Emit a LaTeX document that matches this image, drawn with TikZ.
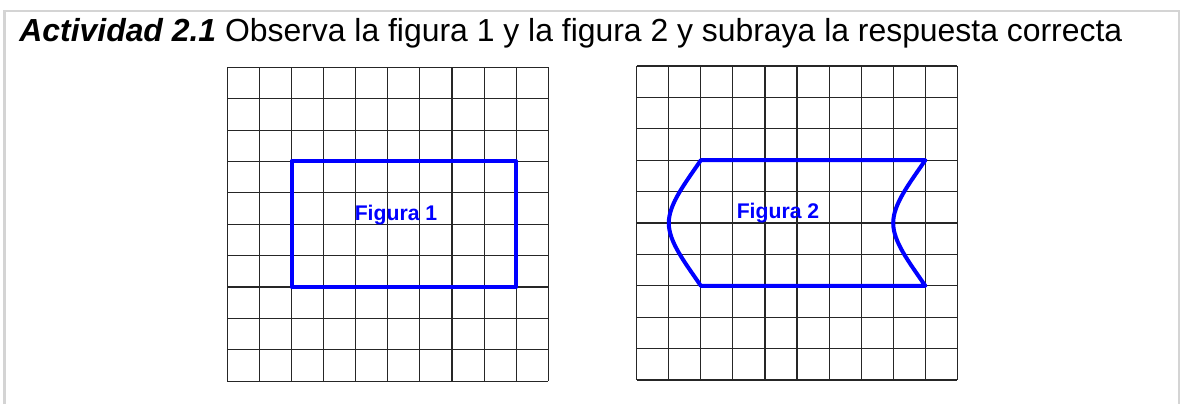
\documentclass[tikz,border=0pt]{standalone}
\usepackage{fontspec}
\setmainfont{Liberation Sans}
\definecolor{marco}{HTML}{D4D4D4}
\definecolor{azul}{HTML}{0000FF}
\usetikzlibrary{calc, positioning}

\begin{document}
\begin{tikzpicture}[x=0.5pt, y=-0.5pt,
  rejilla/.style={black!85, line width=0.55pt},
  figura/.style={azul, line width=2pt, line join=round},
  etiqueta/.style={azul, anchor=base, inner sep=0, font=\fontsize{10.6}{12}\selectfont\bfseries}]
  \useasboundingbox (0,0) rectangle (1181,404);

  % marco y enunciado
  \draw[marco, line width=1.3pt] (4.5,404) -- (4.5,11) -- (1179,11) -- (1179,404);
  \node[anchor=base west, inner sep=0, font=\fontsize{15.95}{18}\selectfont] (titulo) at (19,41)
    {\textbf{\textit{Actividad 2.1}} Observa la figura 1 y la figura 2 y subraya la respuesta correcta};

  % figura 1
  \begin{scope}[shift={(227.3,67.3)}, x=16.05pt, y=-15.69pt]
    \foreach \i in {0,...,10} {
      \draw[rejilla] (\i,0) -- (\i,10);
      \draw[rejilla] (0,\i) -- (10,\i);
    }
    \draw[figura] (2,3) rectangle (9,7);
  \end{scope}
  \node[etiqueta] (fig1) at (396,220) {Figura 1};

  % figura 2
  \begin{scope}[shift={(636.7,66)}, x=16.03pt, y=-15.7pt]
    \foreach \i in {0,...,10} {
      \draw[rejilla] (\i,0) -- (\i,10);
      \draw[rejilla] (0,\i) -- (10,\i);
    }
    \draw[figura] (2,3) -- (9,3)
      .. controls (8.5,3.75) and (8,4.4) .. (8,5)
      .. controls (8,5.6) and (8.5,6.25) .. (9,7) -- (2,7)
      .. controls (1.5,6.25) and (1,5.6) .. (1,5)
      .. controls (1,4.4) and (1.5,3.75) .. (2,3) -- cycle;
  \end{scope}
  \node[etiqueta] (fig2) at (778,218) {Figura 2};
\end{tikzpicture}
\end{document}
